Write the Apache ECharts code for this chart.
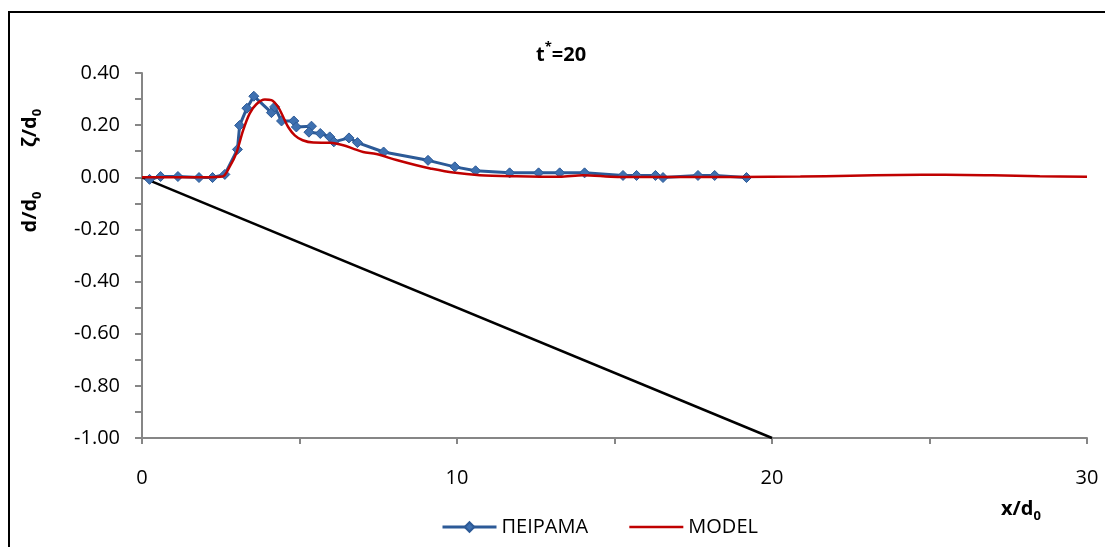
<!DOCTYPE html>
<html>
<head>
<meta charset="utf-8">
<script src="https://cdn.jsdelivr.net/npm/echarts@6/dist/echarts.min.js"></script>
<style>
  html, body { margin: 0; padding: 0; background: #fff; }
  #chart { width: 1105px; height: 547px; }
</style>
</head>
<body>
<div id="chart"></div>
<script>
// Measured free-surface elevation (ΠΕΙΡΑΜΑ), in plotting order
const expX = [0.24, 0.59, 1.14, 1.81, 2.24, 2.63, 3.03, 3.10, 3.33, 3.55, 4.11, 4.21,
              4.43, 4.82, 4.90, 5.38, 5.30, 5.66, 5.96, 6.09, 6.57, 6.84, 7.67, 9.08,
              9.93, 10.59, 11.67, 12.59, 13.26, 14.05, 15.27, 15.70, 16.30, 16.54,
              17.65, 18.18, 19.19];
const expY = [-0.008, 0.003, 0.003, -0.001, -0.001, 0.011, 0.107, 0.199, 0.265, 0.311, 0.248, 0.270,
              0.216, 0.216, 0.193, 0.196, 0.173, 0.168, 0.155, 0.136, 0.151, 0.133, 0.097, 0.065,
              0.040, 0.025, 0.017, 0.017, 0.017, 0.017, 0.007, 0.007, 0.007, -0.001,
              0.007, 0.007, -0.001];

// Numerical model surface (MODEL)
const modelX = [0, 1.0, 2.0, 2.56, 2.78, 2.99, 3.21, 3.42, 3.63, 3.90, 4.11, 4.32, 4.48,
                4.64, 4.85, 5.10, 5.44, 5.96, 6.39, 6.70, 7.02, 7.44, 8.08, 8.71, 9.15,
                9.88, 10.72, 11.89, 13.26, 14.0, 15.1, 16.7, 19.0, 20.9, 22.5, 24.0,
                25.5, 27.0, 28.5, 30.0];
const modelY = [0, 0, 0, 0.003, 0.040, 0.091, 0.180, 0.245, 0.280, 0.298, 0.296, 0.270, 0.232,
                0.193, 0.161, 0.142, 0.133, 0.132, 0.123, 0.110, 0.097, 0.089, 0.066, 0.046, 0.034,
                0.018, 0.008, 0.004, 0.002, 0.008, 0.001, 0.001, 0.001, 0.003, 0.006, 0.009,
                0.010, 0.008, 0.004, 0.002];

// Sloping bottom d/d0
const bedX = [0, 20];
const bedY = [0, -1];

const seriesNames = ['ΠΕΙΡΑΜΑ', 'MODEL'];

const FONT = '"Open Sans", "Noto Sans", sans-serif';
const zip = (xs, ys) => xs.map((x, i) => [x, ys[i]]);

const subRich = {
  b: { fontFamily: FONT, fontSize: 20, fontWeight: 'bold', color: '#000', lineHeight: 28, verticalAlign: 'middle' },
  s: { fontFamily: FONT, fontSize: 13, fontWeight: 'bold', color: '#000', lineHeight: 13, verticalAlign: 'bottom' },
  p: { fontFamily: FONT, fontSize: 13, fontWeight: 'bold', color: '#000', lineHeight: 13, verticalAlign: 'top' }
};

const chart = echarts.init(document.getElementById('chart'), null, { renderer: 'canvas' });

const axisGray = '#868686';
const blue = '#2C5A97';
const red = '#C00000';

chart.setOption({
  animation: false,
  backgroundColor: '#fff',
  title: {
    text: '{b|t}{p|*}{b|=20}',
    left: 531,
    top: 36,
    textStyle: { rich: subRich }
  },
  legend: {
    data: [
      { name: seriesNames[0], lineStyle: { width: 3, color: blue } },
      { name: seriesNames[1], lineStyle: { width: 2.5, color: red }, itemStyle: { opacity: 0 } }
    ],
    left: 436,
    top: 512,
    itemWidth: 54,
    itemHeight: 12,
    itemGap: 40,
    textStyle: { fontFamily: FONT, fontSize: 20, color: '#000' }
  },
  grid: { left: 142, right: 18, top: 73, bottom: 109 },
  xAxis: {
    type: 'value',
    min: 0,
    max: 30,
    interval: 10,
    axisLine: { show: true, onZero: false, lineStyle: { color: axisGray, width: 2 } },
    axisTick: { show: true, inside: false, length: 6, lineStyle: { color: axisGray, width: 2 } },
    minorTick: { show: true, splitNumber: 2, length: 6, lineStyle: { color: axisGray, width: 2 } },
    splitLine: { show: false },
    axisLabel: { margin: 30, fontFamily: FONT, fontSize: 20, color: '#000' }
  },
  yAxis: {
    type: 'value',
    min: -1,
    max: 0.4,
    interval: 0.2,
    axisLine: { show: true, onZero: false, lineStyle: { color: axisGray, width: 2 } },
    axisTick: { show: true, inside: false, length: 7, lineStyle: { color: axisGray, width: 2 } },
    minorTick: { show: true, splitNumber: 2, length: 7, lineStyle: { color: axisGray, width: 2 } },
    splitLine: { show: false },
    axisLabel: {
      margin: 22,
      fontFamily: FONT,
      fontSize: 20,
      color: '#000',
      formatter: v => v.toFixed(2)
    }
  },
  graphic: [
    {
      type: 'rect',
      silent: true,
      shape: { x: 9, y: 12, width: 1200, height: 600 },
      style: { fill: 'none', stroke: '#000', lineWidth: 2 }
    },
    {
      type: 'text',
      x: 30, y: 128,
      rotation: Math.PI / 2,
      style: { text: '{b|ζ/d}{s|0}', rich: subRich, align: 'center', verticalAlign: 'middle' }
    },
    {
      type: 'text',
      x: 30, y: 212,
      rotation: Math.PI / 2,
      style: { text: '{b|d/d}{s|0}', rich: subRich, align: 'center', verticalAlign: 'middle' }
    },
    {
      type: 'text',
      x: 1021, y: 509,
      style: { text: '{b|x/d}{s|0}', rich: subRich, align: 'center', verticalAlign: 'middle' }
    }
  ],
  series: [
    {
      name: 'bed',
      type: 'line',
      data: zip(bedX, bedY),
      symbol: 'none',
      lineStyle: { color: '#000', width: 2.5 },
      itemStyle: { color: '#000' },
      z: 1
    },
    {
      name: seriesNames[0],
      type: 'line',
      data: zip(expX, expY),
      symbol: 'diamond',
      symbolSize: 10,
      lineStyle: { color: blue, width: 3 },
      itemStyle: { color: '#3E70B0', borderColor: blue, borderWidth: 1 },
      z: 2
    },
    {
      name: seriesNames[1],
      type: 'line',
      data: zip(modelX, modelY),
      symbol: 'none',
      smooth: 0.3,
      lineStyle: { color: red, width: 2.5 },
      itemStyle: { color: red },
      z: 3
    }
  ]
});
</script>
</body>
</html>
